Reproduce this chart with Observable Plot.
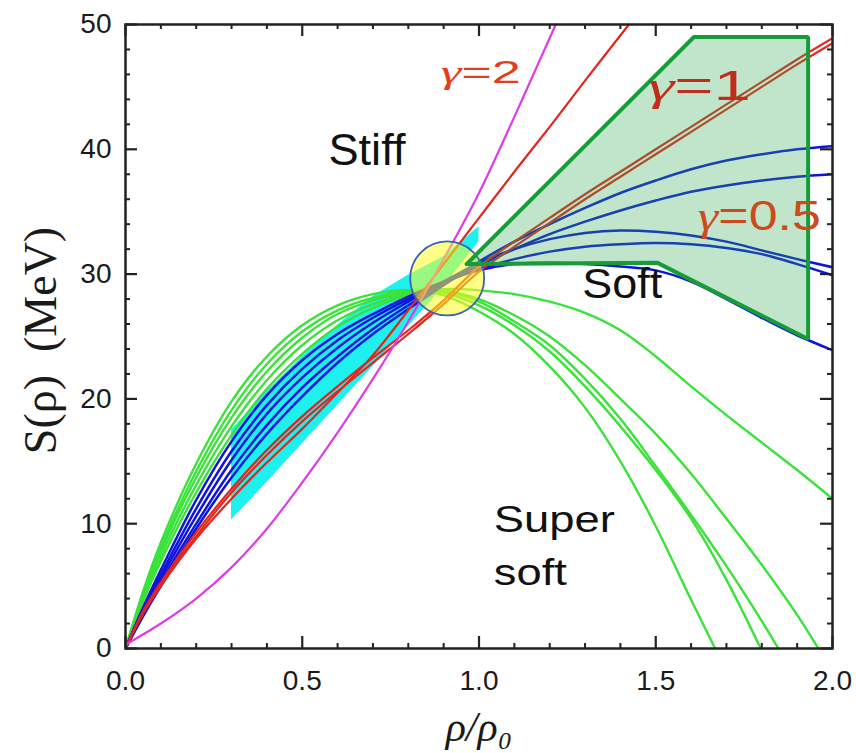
<!DOCTYPE html>
<html><head><meta charset="utf-8">
<script src="https://cdn.jsdelivr.net/npm/d3@7"></script>
<script src="https://cdn.jsdelivr.net/npm/@observablehq/plot@0.6"></script>
<style>body{margin:0;background:#fff}svg{display:block}</style>
</head><body><div id="chart"></div>
<script>
// ---- tick values ----
const xMajor = [0, 0.5, 1.0, 1.5, 2.0];
const xMinor = [0.1,0.2,0.3,0.4,0.6,0.7,0.8,0.9,1.1,1.2,1.3,1.4,1.6,1.7,1.8,1.9];
const yMajor = [0, 10, 20, 30, 40, 50];
const yMinor = [2,4,6,8,12,14,16,18,22,24,26,28,32,34,36,38,42,44,46,48];

// ---- density grid (rho/rho0) ----
const grid = [0,0.05,0.1,0.2,0.3,0.4,0.5,0.6,0.7,0.8,0.9,1.0,1.1,1.2,1.3,1.4,1.5,1.6,1.7,1.8,1.9,2.0];

// blue (soft) curves on the common grid
const blue1 = [0,2.6,5.0,9.6,13.7,17.2,20.2,22.9,25.2,27.2,29.1,31.0,32.6,34.0,35.3,36.5,37.5,38.4,39.1,39.6,40.0,40.25];
const blue2 = [0,2.7,5.3,10.0,14.3,17.9,20.9,23.4,25.6,27.5,29.2,30.7,32.0,33.2,34.2,35.1,35.9,36.6,37.1,37.5,37.8,38.0];
const blue3 = [0,2.9,5.6,10.6,15.1,18.8,21.7,24.1,26.1,27.8,29.4,30.9,32.0,32.8,33.3,33.5,33.4,33.1,32.6,31.9,31.2,30.55];
const blue4 = [0,3.1,5.9,11.2,15.8,19.5,22.4,24.7,26.5,28.0,29.3,30.4,31.2,31.8,32.2,32.4,32.5,32.4,32.1,31.6,30.8,29.9];
const blue5 = [0,3.3,6.3,11.9,16.6,20.3,23.1,25.2,26.8,28.2,29.4,30.3,30.8,30.9,30.8,30.6,30.3,29.4,28.0,26.5,25.1,23.9];

// red (gamma ~ 1) curves on the common grid
const red2 = [0,3.0,5.3,9.3,12.8,15.9,18.6,21.0,23.3,25.5,27.9,30.6,32.6,34.5,36.4,38.2,40.0,41.8,43.6,45.4,47.2,48.9];
const red3 = [0,2.9,5.1,9.0,12.5,15.5,18.2,20.6,22.9,25.2,27.6,30.2,32.2,34.1,36.0,37.8,39.6,41.4,43.2,45.0,46.8,48.5];
// red (gamma = 2 label) curve
const red1X = [0,0.05,0.1,0.2,0.3,0.4,0.5,0.6,0.7,0.8,0.9,1.0,1.1,1.2,1.3,1.424];
const red1Y = [0,2.8,5.0,8.8,12.0,14.9,17.6,20.5,23.5,27.1,30.8,34.5,38.2,41.8,45.5,50];

// magenta (very stiff)
const magX = [0,0.1,0.2,0.3,0.4,0.5,0.6,0.7,0.8,0.9,1.0,1.1,1.217];
const magY = [0.3,2.0,4.0,6.5,9.6,13.3,17.3,21.6,26.2,31.2,36.5,42.6,50];

// green (super soft) curves
const green1X = grid;
const green1Y = [0,3.8,7.0,12.5,17.1,20.8,23.6,25.8,27.3,28.3,28.8,28.7,28.4,27.8,26.9,25.5,23.4,21.0,18.7,16.5,14.3,12.0];
const green2X = [0,0.05,0.1,0.2,0.3,0.4,0.5,0.6,0.7,0.8,0.9,1.0,1.1,1.2,1.3,1.4,1.5,1.6,1.668];
const green2Y = [0,4.6,8.5,14.8,19.8,23.4,25.9,27.5,28.4,28.7,28.3,27.0,25.2,22.6,19.3,15.0,9.8,3.9,0];
const green3X = [0,0.05,0.1,0.2,0.3,0.4,0.5,0.6,0.7,0.8,0.9,1.0,1.1,1.2,1.3,1.4,1.5,1.6,1.7,1.797];
const green3Y = [0,4.4,8.1,14.2,19.1,22.8,25.4,27.1,28.1,28.6,28.5,27.5,25.9,23.8,21.0,17.8,14.3,10.4,5.5,0];
const green4X = [0,0.05,0.1,0.2,0.3,0.4,0.5,0.6,0.7,0.8,0.9,1.0,1.1,1.2,1.3,1.4,1.5,1.6,1.7,1.8,1.847];
const green4Y = [0,4.2,7.8,13.7,18.5,22.2,24.9,26.8,27.9,28.5,28.6,27.8,26.2,24.3,21.6,18.4,14.6,10.7,6.6,2.2,0];
const green5X = [0,0.05,0.1,0.2,0.3,0.4,0.5,0.6,0.7,0.8,0.9,1.0,1.1,1.2,1.3,1.4,1.5,1.6,1.7,1.8,1.9,1.96];
const green5Y = [0,4.0,7.4,13.1,17.8,21.5,24.3,26.3,27.6,28.4,28.7,28.0,26.7,25.0,22.7,20.0,17.2,14.0,10.4,6.7,2.7,0];

// cyan constraint band
const cyanX  = [0.3, 0.4, 0.5, 0.6, 0.7, 0.8, 0.9, 1.0];
const cyanLo = [10.3, 13.3, 16.4, 19.5, 22.6, 25.8, 29.0, 32.6];
const cyanHi = [17.5, 20.6, 23.4, 25.9, 28.2, 29.9, 31.4, 33.8];

// green highlighted "soft" region (polygon vertices)
const softPolyX = [0.965, 1.608, 1.931, 1.931, 1.505, 0.965];
const softPolyY = [30.8, 49.0, 49.0, 24.8, 30.9, 30.8];

// yellow saturation-density circle
const circle = [{x: 0.91, y: 29.65}];

// annotations
const labelText = ["Stiff", "γ=2", "γ=1", "γ=0.5", "Soft", "Super", "soft"];
const labelX    = [0.683, 1.005, 1.623, 1.793, 1.405, 1.042, 1.042];
const labelY    = [39.85, 46.1, 45.0, 34.6, 29.2, 10.26, 6.0];

// ---- layout ----
const W = 856, H = 753, mL = 125, mR = 24, mT = 24, mB = 105;
const fW = W - mL - mR, fH = H - mT - mB;

const pts = (xs, ys) => xs.map((x, i) => ({x, y: ys[i]}));
const lineOpts = (stroke, w) => ({x: "x", y: "y", stroke, strokeWidth: w, curve: "catmull-rom", clip: true});

const GREEN = "#3ae23a", BLUE = "#0d14dc", RED = "#e2261e", MAG = "#de3ce6";
const SERIF = "'Liberation Serif', 'DejaVu Serif', serif";

const labels = labelText.map((t, i) => ({t, x: labelX[i], y: labelY[i]}));
const labelStyle = {
  "Stiff": {size: 44, fill: "#111", anchor: "middle", len: 77},
  "γ=2":   {size: 31, fill: "#e63c1c", anchor: "middle", len: 80},
  "γ=1":   {size: 42, fill: "#c22c1a", anchor: "middle", len: 103},
  "γ=0.5": {size: 42, fill: "#cc4a1c", anchor: "middle", len: 123},
  "Soft":  {size: 42, fill: "#111", anchor: "middle", len: 80},
  "Super": {size: 37, fill: "#111", anchor: "start", len: 121},
  "soft":  {size: 37, fill: "#111", anchor: "start", len: 73}
};

const marks = [
  Plot.areaY(cyanX.map((x, i) => ({x, lo: cyanLo[i], hi: cyanHi[i]})), {x: "x", y1: "lo", y2: "hi", fill: "#1ef0f0", curve: "linear"}),
  ...[[green1X, green1Y], [green2X, green2Y], [green3X, green3Y], [green4X, green4Y], [green5X, green5Y]]
    .map(([xs, ys]) => Plot.line(pts(xs, ys), lineOpts(GREEN, 2.4))),
  ...[blue1, blue2, blue3, blue4, blue5].map(ys => Plot.line(pts(grid, ys), lineOpts(BLUE, 2.5))),
  Plot.line(pts(red1X, red1Y), lineOpts(RED, 2.2)),
  ...[red2, red3].map(ys => Plot.line(pts(grid, ys), lineOpts(RED, 2.2))),
  Plot.line(pts(magX, magY), lineOpts(MAG, 2.2)),
  Plot.dot(circle, {x: "x", y: "y", r: 37, fill: "#ffff22", fillOpacity: 0.55, stroke: "#3a62b0", strokeWidth: 1.8}),
  Plot.line(pts(softPolyX, softPolyY), {x: "x", y: "y", stroke: "#179c3a", strokeWidth: 4, fill: "#2eaa50", fillOpacity: 0.3, strokeLinejoin: "miter", curve: "linear"}),
  // annotation texts
  ...labels.map(d => Plot.text([d], {x: "x", y: "y", text: "t", fontSize: labelStyle[d.t].size, fill: labelStyle[d.t].fill, textAnchor: labelStyle[d.t].anchor, lineAnchor: "middle"})),
  // frame and inward ticks
  Plot.frame({stroke: "#222", strokeWidth: 2.5}),
  Plot.ruleX(xMajor, {x: d => d, insetTop: fH - 12, stroke: "#222", strokeWidth: 2.2}),
  Plot.ruleX(xMajor, {x: d => d, insetBottom: fH - 12, stroke: "#222", strokeWidth: 2.2}),
  Plot.ruleX(xMinor, {x: d => d, insetTop: fH - 5, stroke: "#222", strokeWidth: 2}),
  Plot.ruleX(xMinor, {x: d => d, insetBottom: fH - 5, stroke: "#222", strokeWidth: 2}),
  Plot.ruleY(yMajor, {y: d => d, insetRight: fW - 12, stroke: "#222", strokeWidth: 2.2}),
  Plot.ruleY(yMajor, {y: d => d, insetLeft: fW - 12, stroke: "#222", strokeWidth: 2.2}),
  Plot.ruleY(yMinor, {y: d => d, insetRight: fW - 5, stroke: "#222", strokeWidth: 2}),
  Plot.ruleY(yMinor, {y: d => d, insetLeft: fW - 5, stroke: "#222", strokeWidth: 2}),
  // tick labels
  Plot.text(xMajor, {x: d => d, frameAnchor: "bottom", lineAnchor: "top", textAnchor: "middle", dy: 22, text: d => d.toFixed(1), fontSize: 28, fill: "#1a1a1a"}),
  Plot.text(yMajor, {y: d => d, frameAnchor: "left", textAnchor: "end", lineAnchor: "middle", dx: -14, text: d => String(d), fontSize: 28, fill: "#1a1a1a"}),
  // axis titles
  Plot.text(["S(ρ)  (MeV)"], {frameAnchor: "left", rotate: -90, textAnchor: "middle", lineAnchor: "middle", dx: -84, dy: 4, text: d => d, fontSize: 46, fontFamily: SERIF, fill: "#1a1a1a"}),
  Plot.text(["ρ/ρ₀"], {frameAnchor: "bottom", textAnchor: "middle", lineAnchor: "middle", dy: 79, text: d => d, fontSize: 42, fontStyle: "italic", fontFamily: SERIF, fill: "#1a1a1a"})
];

const svg = Plot.plot({
  width: W, height: H,
  marginLeft: mL, marginRight: mR, marginTop: mT, marginBottom: mB,
  x: {domain: [0, 2], axis: null},
  y: {domain: [0, 50], axis: null},
  style: {fontFamily: "'Liberation Sans', Arial, sans-serif", background: "#fff"},
  marks
});

// stretch annotation words to the widths seen in the figure; gamma in serif italic
svg.querySelectorAll("text").forEach(t => {
  const content = t.textContent;
  const s = labelStyle[content];
  if (!s) return;
  if (content.startsWith("γ")) {
    t.textContent = "";
    const g = document.createElementNS("http://www.w3.org/2000/svg", "tspan");
    g.setAttribute("font-family", SERIF);
    g.setAttribute("font-style", "italic");
    g.textContent = "γ";
    const r = document.createElementNS("http://www.w3.org/2000/svg", "tspan");
    r.textContent = content.slice(1);
    t.appendChild(g); t.appendChild(r);
  }
  t.setAttribute("textLength", s.len);
  t.setAttribute("lengthAdjust", "spacingAndGlyphs");
});
document.getElementById("chart").appendChild(svg);
</script></body></html>
